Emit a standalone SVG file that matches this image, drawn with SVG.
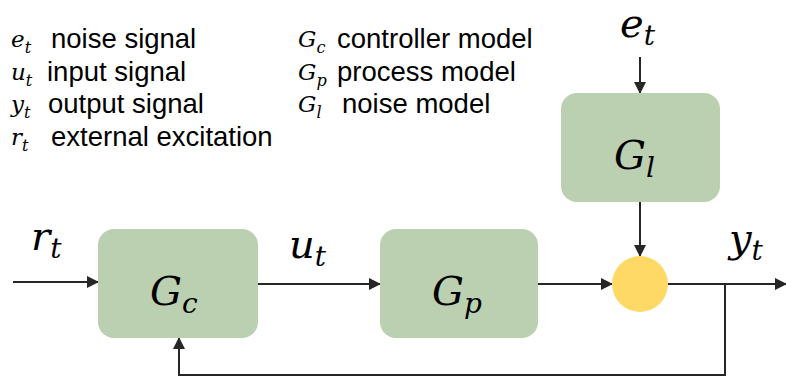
<svg xmlns="http://www.w3.org/2000/svg" width="786" height="377" viewBox="0 0 786 377">
<style>
.box{fill:#bbcfb1}
.sum{fill:#ffd966}
.ln{stroke:#262626;stroke-width:2;fill:none}
.leg{font-family:"Liberation Sans",Arial,sans-serif;font-size:27.5px;fill:#000}
.m{font-family:"DejaVu Serif","Liberation Serif",serif;font-style:italic;fill:#000}
.ms{font-size:23px}
.mb{font-size:40px}
.sub{font-size:0.7em}
</style>
<defs>
<marker id="ah" markerWidth="12" markerHeight="12" refX="11" refY="6" orient="auto" markerUnits="userSpaceOnUse">
<path d="M0,0 L12,6 L0,12 Z" fill="#262626"/>
</marker>
</defs>
<g id="legend">
<text x="11" y="47" class="m ms">e<tspan class="sub" dy="6">t</tspan></text>
<text x="51" y="48" class="leg">noise signal</text>
<text x="11" y="80" class="m ms">u<tspan class="sub" dy="6">t</tspan></text>
<text x="47" y="81" class="leg">input signal</text>
<text x="11" y="112" class="m ms">y<tspan class="sub" dy="6">t</tspan></text>
<text x="48" y="113" class="leg">output signal</text>
<text x="11" y="145" class="m ms">r<tspan class="sub" dy="6">t</tspan></text>
<text x="51" y="146" class="leg">external excitation</text>
<text x="298" y="47" class="m ms">G<tspan class="sub" dy="6">c</tspan></text>
<text x="337" y="48" class="leg">controller model</text>
<text x="298" y="80" class="m ms">G<tspan class="sub" dy="6">p</tspan></text>
<text x="337" y="81" class="leg">process model</text>
<text x="298" y="112" class="m ms">G<tspan class="sub" dy="6">l</tspan></text>
<text x="342" y="113" class="leg">noise model</text>
</g>
<g id="connectors">
<line class="ln" x1="13" y1="282" x2="98" y2="282" marker-end="url(#ah)"/>
<line class="ln" x1="258" y1="284" x2="380" y2="284" marker-end="url(#ah)"/>
<line class="ln" x1="538" y1="284" x2="612" y2="284" marker-end="url(#ah)"/>
<line class="ln" x1="668" y1="284" x2="786" y2="284" marker-end="url(#ah)"/>
<line class="ln" x1="640" y1="57" x2="640" y2="93" marker-end="url(#ah)"/>
<line class="ln" x1="640" y1="202" x2="640" y2="256" marker-end="url(#ah)"/>
<polyline class="ln" points="725,284 725,375 179,375 179,338" marker-end="url(#ah)"/>
</g>
<g id="Gc">
<rect class="box" x="98" y="229" width="160" height="109" rx="16"/>
<text x="150" y="305" class="m mb">G<tspan class="sub" dy="8">c</tspan></text>
</g>
<g id="Gp">
<rect class="box" x="380" y="229" width="158" height="109" rx="16"/>
<text x="432" y="305" class="m mb">G<tspan class="sub" dy="8">p</tspan></text>
</g>
<g id="Gl">
<rect class="box" x="561" y="93" width="159" height="109" rx="16"/>
<text x="614" y="169" class="m mb">G<tspan class="sub" dy="8">l</tspan></text>
</g>
<g id="sum">
<circle class="sum" cx="640" cy="284" r="28"/>
</g>
<g id="labels">
<text x="31" y="250" class="m mb">r<tspan class="sub" dy="8">t</tspan></text>
<text x="289" y="258" class="m mb">u<tspan class="sub" dy="8">t</tspan></text>
<text x="729" y="252" class="m mb">y<tspan class="sub" dy="8">t</tspan></text>
<text x="620" y="37" class="m mb">e<tspan class="sub" dy="8">t</tspan></text>
</g>
</svg>
